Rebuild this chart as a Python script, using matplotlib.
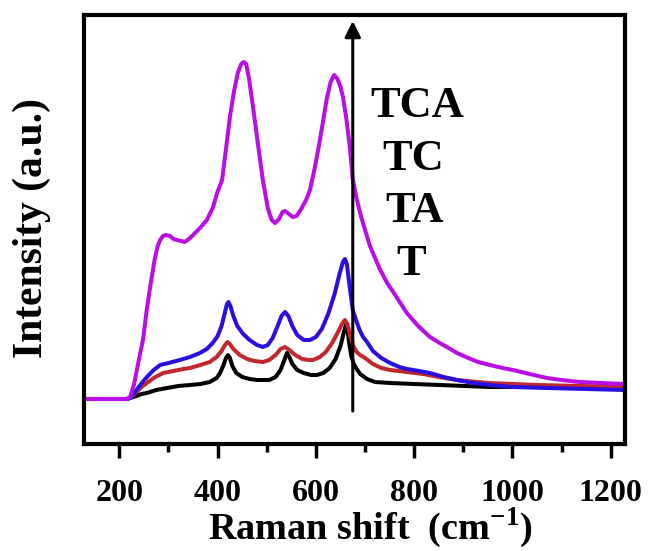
import numpy as np
import matplotlib
matplotlib.use("Agg")
import matplotlib.pyplot as plt
from matplotlib.ticker import MultipleLocator

# Raman spectra, intensity in arbitrary units
t_shift = [128, 215, 222, 235, 245, 256, 275, 297, 320, 344, 365, 384, 398, 405, 412, 417,
           421, 425, 430, 438, 450, 465, 480, 492, 505, 518, 528, 535, 541, 546, 552, 562,
           575, 590, 602, 615, 628, 640, 650, 656, 661, 664, 668, 672, 677, 683, 690, 704,
           720, 751, 800, 852, 954, 1228]
t_int = [45, 45, 46, 48, 50, 51, 54, 56, 58, 59, 60, 62, 66, 71, 79, 86,
         89, 86, 78, 71, 67, 65, 64, 64, 64, 67, 74, 83, 91, 87, 80, 74,
         71, 69, 69, 71, 76, 85, 98, 110, 119, 115, 100, 88, 80, 75, 70, 65,
         62, 61, 60, 59, 57, 57]

ta_shift = [128, 215, 222, 235, 245, 256, 270, 289, 310, 330, 344, 365, 384, 398, 408, 415,
            420, 425, 432, 445, 460, 475, 492, 505, 518, 528, 537, 546, 558, 572, 585, 594,
            608, 620, 633, 645, 653, 659, 664, 670, 677, 683, 690, 700, 716, 733, 751, 785,
            818, 850, 887, 950, 1050, 1228]
ta_int = [45, 45, 46, 52, 57, 61, 66, 71, 73, 75, 76, 79, 82, 87, 93, 99,
          102, 100, 95, 89, 85, 83, 82, 84, 89, 95, 97, 94, 89, 85, 84, 84,
          87, 92, 101, 112, 120, 124, 120, 108, 97, 92, 89, 86, 80, 76, 74, 72,
          70, 67, 64, 61, 59, 57]

tc_shift = [128, 215, 222, 232, 244, 256, 270, 283, 300, 323, 344, 364, 378, 390, 400, 408,
            414, 419, 422, 426, 432, 440, 452, 465, 480, 492, 502, 512, 522, 530, 537, 544,
            552, 562, 575, 588, 600, 612, 625, 638, 648, 655, 659, 663, 668, 672, 675, 683,
            689, 696, 704, 716, 733, 751, 770, 785, 810, 832, 860, 887, 920, 954, 1000, 1070,
            1150, 1228]
tc_int = [45, 45, 46, 52, 60, 67, 74, 79, 81, 84, 87, 91, 95, 101, 108, 118,
          130, 140, 142, 138, 128, 118, 110, 104, 99, 97, 99, 106, 118, 128, 132, 128,
          118, 109, 104, 104, 107, 115, 130, 150, 170, 182, 185, 180, 160, 145, 134, 122,
          114, 107, 102, 93, 86, 81, 77, 75, 73, 71, 67, 64, 61, 59, 57, 56,
          55, 54]

tca_shift = [128, 215, 222, 230, 240, 248, 256, 262, 266, 272, 278, 283, 289, 295, 303, 310,
             317, 325, 333, 344, 354, 366, 378, 390, 399, 409, 417, 425, 433, 441, 448, 453,
             458, 464, 472, 482, 492, 502, 510, 517, 525, 532, 537, 545, 553, 561, 570, 580,
             588, 598, 606, 614, 622, 630, 637, 644, 650, 655, 662, 669, 675, 682, 690, 700,
             710, 716, 730, 745, 760, 785, 808, 832, 852, 870, 887, 910, 930, 954, 980, 1001,
             1035, 1070, 1100, 1137, 1180, 1228]
tca_int = [45, 45, 47, 60, 85, 104, 135, 155, 167, 185, 198, 204, 208, 209, 208, 205,
           204, 203, 202, 206, 211, 217, 224, 236, 251, 264, 295, 327, 352, 371, 380, 382,
           380, 365, 337, 300, 264, 236, 224, 221, 225, 232, 233, 230, 227, 228, 235, 244,
           254, 277, 298, 321, 345, 362, 369, 365, 357, 347, 325, 297, 265, 247, 231, 214,
           198, 191, 175, 161, 150, 131, 118, 107, 101, 96, 91, 86, 82, 79, 76, 74,
           70, 66, 64, 62, 61, 60]

samples = ['T', 'TA', 'TC', 'TCA']
colors = ['#000000', '#C0282D', '#2A10E0', '#B90EE6']
label_pos = [(793, 169), (801, 222), (797, 274), (807, 327)]

plt.rcParams['font.family'] = 'Liberation Serif'
plt.rcParams['font.weight'] = 'bold'
plt.rcParams['mathtext.fontset'] = 'custom'
plt.rcParams['mathtext.rm'] = 'Liberation Serif:bold'
plt.rcParams['mathtext.bf'] = 'Liberation Serif:bold'

fig = plt.figure(figsize=(6.48, 5.51), dpi=100)
ax = fig.add_axes([0.1296, 0.1942, 0.8349, 0.7786])

series = [(t_shift, t_int), (ta_shift, ta_int), (tc_shift, tc_int), (tca_shift, tca_int)]
for (x, y), c in zip(series, colors):
    ax.plot(x, y, color=c, lw=2.9, solid_joinstyle='round', solid_capstyle='round')

# arrow showing increasing intensity order
ax.annotate('', xy=(675, 423), xytext=(675, 33),
            arrowprops=dict(arrowstyle='-|>', color='black', lw=2.2,
                            mutation_scale=24, shrinkA=0, shrinkB=0))
for name, (x, y) in zip(samples, label_pos):
    ax.text(x, y, name, fontsize=32, fontweight='bold', ha='center', va='baseline')

ax.set_xlim(128, 1229)
ax.set_ylim(0, 429)
ax.set_yticks([])
ax.xaxis.set_major_locator(MultipleLocator(200))
ax.xaxis.set_minor_locator(MultipleLocator(100))
ax.tick_params(axis='x', which='major', direction='out', length=10, width=2.5,
               labelsize=23, pad=15)
ax.tick_params(axis='x', which='minor', direction='out', length=6, width=2.5)
for s in ax.spines.values():
    s.set_linewidth(3)

fig.text(0.571, 0.022, r'Raman shift  (cm$^{\mathbf{-1}}$)', fontsize=27.5,
         fontweight='bold', ha='center', va='baseline')
fig.text(0.049, 0.586, 'Intensity (a.u.)', fontsize=30, fontweight='bold',
         rotation=90, ha='center', va='center')

fig.savefig('out.png', dpi=100)
